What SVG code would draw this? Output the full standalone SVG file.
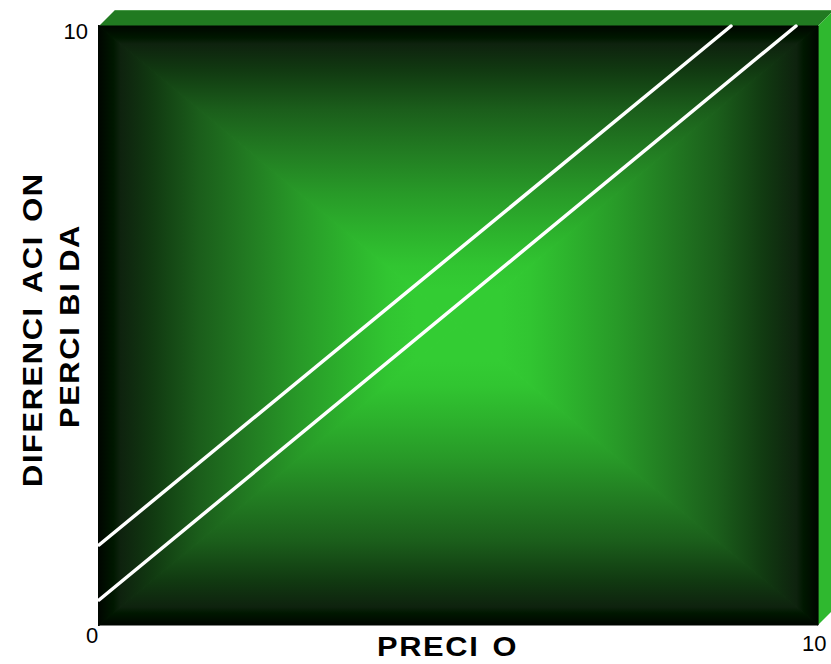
<svg xmlns="http://www.w3.org/2000/svg" width="831" height="664" viewBox="0 0 831 664">
  <defs>
    <linearGradient id="gL" gradientUnits="userSpaceOnUse" x1="99" y1="0" x2="458.5" y2="0">
      <stop offset="0" stop-color="#000600"/>
      <stop offset="0.04" stop-color="#001800"/>
      <stop offset="0.06" stop-color="#0e220e"/>
      <stop offset="0.15" stop-color="#113a11"/>
      <stop offset="0.28" stop-color="#1b5e1b"/>
      <stop offset="0.42" stop-color="#227c22"/>
      <stop offset="0.56" stop-color="#289a28"/>
      <stop offset="0.70" stop-color="#2db42d"/>
      <stop offset="0.80" stop-color="#31c531"/>
      <stop offset="0.88" stop-color="#33cc33"/>
      <stop offset="1" stop-color="#33cc33"/>
    </linearGradient>
    <linearGradient id="gR" href="#gL" x1="818" x2="458.5"/>
    <linearGradient id="gT" href="#gL" x1="0" y1="26" x2="0" y2="325.5"/>
    <linearGradient id="gB" href="#gL" x1="0" y1="625" x2="0" y2="325.5"/>
    <style>
      .num { font-family: "Liberation Sans", Arial, sans-serif; font-size: 22px; fill: #000; }
      .lbl { font-family: "Liberation Sans", Arial, sans-serif; font-size: 28px; font-weight: bold; fill: #000; letter-spacing: 1.5px; }
      .diag { stroke: #ffffff; stroke-width: 3.5; stroke-linecap: round; fill: none; }
    </style>
  </defs>

  <rect width="831" height="664" fill="#ffffff"/>

  <g id="box">
    <polygon points="99,26 115,10 834,10 818,26" fill="#217a21"/>
    <line x1="115" y1="10.5" x2="834" y2="10.5" stroke="#4a9a4a" stroke-width="1"/>
    <polygon points="818,26 834,10 834,609 818,625" fill="#2fb82f"/>
    <polygon points="99,26 458.5,325.5 99,625" fill="url(#gL)" stroke="url(#gL)" stroke-width="1.2" stroke-linejoin="bevel"/>
    <polygon points="818,26 458.5,325.5 818,625" fill="url(#gR)" stroke="url(#gR)" stroke-width="1.2" stroke-linejoin="bevel"/>
    <polygon points="99,26 818,26 458.5,325.5" fill="url(#gT)" stroke="url(#gT)" stroke-width="1.2" stroke-linejoin="bevel"/>
    <polygon points="99,625 818,625 458.5,325.5" fill="url(#gB)" stroke="url(#gB)" stroke-width="1.2" stroke-linejoin="bevel"/>
    <rect x="98" y="25" width="1.5" height="601" fill="#000600"/>
  </g>

  <g id="connectors">
    <line class="diag" x1="99" y1="545" x2="731" y2="26"/>
    <line class="diag" x1="99" y1="600" x2="796" y2="26"/>
  </g>

  <g id="labels">
    <text class="num" x="88" y="39" text-anchor="end">10</text>
    <text class="num" x="86" y="643">0</text>
    <text class="num" x="802" y="651">10</text>
    <text class="lbl" transform="translate(377,656) scale(1.1,1)">PRECI<tspan dx="12">O</tspan></text>
    <text class="lbl" transform="translate(42,487) rotate(-90) scale(1.1,1)">DIFERENCI<tspan dx="12">ACI</tspan><tspan dx="12">ON</tspan></text>
    <text class="lbl" transform="translate(79,428) rotate(-90) scale(1.1,1)">PERCI<tspan dx="9">BI</tspan><tspan dx="9">DA</tspan></text>
  </g>
</svg>
